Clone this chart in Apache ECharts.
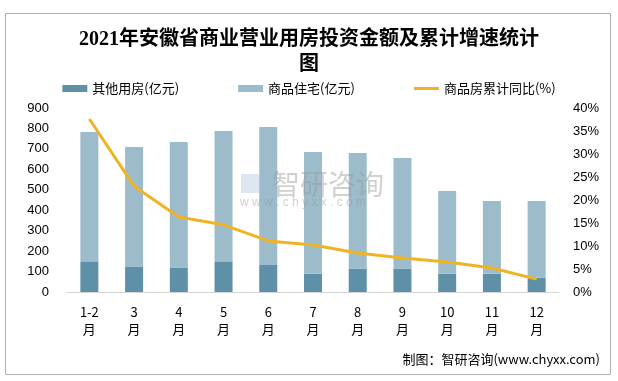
<!DOCTYPE html>
<html><head><meta charset="utf-8">
<script src="https://cdn.jsdelivr.net/npm/echarts@6/dist/echarts.min.js"></script>
<style>html,body{margin:0;padding:0;background:#fff}#c{width:618px;height:381px}</style>
</head><body><div id="c"></div>
<script>
const categories = ['1-2月','3月','4月','5月','6月','7月','8月','9月','10月','11月','12月'];
const otherValues = [150, 125, 120, 150, 135, 90, 115, 115, 90, 90, 70];
const housingValues = [633, 584, 614, 638, 672, 595, 565, 541, 404, 355, 375];
const growthValues = [37.6, 23.0, 16.3, 14.6, 11.1, 10.2, 8.5, 7.4, 6.5, 5.2, 2.8];
const leftTicks = {min: 0, max: 900, interval: 100};
const rightTicks = {min: 0, max: 40, interval: 5};

const chart = echarts.init(document.getElementById('c'));
const sans = "'Noto Sans CJK SC', sans-serif";
chart.setOption({
  animation: false,
  title: {
    text: '2021年安徽省商业营业用房投资金额及累计增速统计\n图',
    left: 'center', top: 22,
    textStyle: {fontFamily: "'Liberation Serif','Noto Sans CJK SC',serif", fontWeight: 'bold', fontSize: 20, color: '#000', lineHeight: 25}
  },
  legend: {
    top: 77, left: 'center', itemGap: 59, itemWidth: 25, itemHeight: 7,
    textStyle: {fontFamily: sans, fontSize: 13, color: '#000'},
    data: [
      {name: '其他用房(亿元)', icon: 'rect'},
      {name: '商品住宅(亿元)', icon: 'rect'},
      {name: '商品房累计同比(%)', icon: 'path://M0,0L25,0L25,3L0,3Z'}
    ]
  },
  grid: {left: 67, right: 59, top: 108, bottom: 89},
  xAxis: {
    type: 'category', data: categories,
    axisLine: {lineStyle: {color: '#d4d4d4'}},
    axisTick: {show: false},
    axisLabel: {color: '#000', fontSize: 13, fontFamily: sans, margin: 12, lineHeight: 17,
      formatter: v => v.replace('月', '\n月')}
  },
  yAxis: [
    {type: 'value', min: leftTicks.min, max: leftTicks.max, interval: leftTicks.interval,
     axisLine: {show: false}, axisTick: {show: false}, splitLine: {show: false},
     axisLabel: {color: '#000', fontSize: 13, fontFamily: "'Liberation Sans',sans-serif", margin: 18}},
    {type: 'value', min: rightTicks.min, max: rightTicks.max, interval: rightTicks.interval,
     axisLine: {show: false}, axisTick: {show: false}, splitLine: {show: false},
     axisLabel: {color: '#000', fontSize: 13, fontFamily: "'Liberation Sans',sans-serif", margin: 14, formatter: '{value}%'}}
  ],
  series: [
    {name: '其他用房(亿元)', type: 'bar', stack: 'a', barWidth: 18, data: otherValues,
     itemStyle: {color: '#5e90a7'}},
    {name: '商品住宅(亿元)', type: 'bar', stack: 'a', barWidth: 18, data: housingValues,
     itemStyle: {color: '#9dbccb'}},
    {name: '商品房累计同比(%)', type: 'line', yAxisIndex: 1, data: growthValues,
     symbol: 'none', lineStyle: {color: '#f0b323', width: 3}, itemStyle: {color: '#f0b323'}}
  ],
  graphic: [
    {type: 'rect', shape: {x: 5.5, y: 13.5, width: 605, height: 361}, style: {fill: 'none', stroke: '#b0b0b0', lineWidth: 1}, silent: true, z: -1},
    {type: 'text', left: 272, top: 170, style: {text: '智研咨询', font: "28px 'Noto Sans CJK SC'", fill: 'rgba(150,150,150,0.45)'}, z: 10},
    {type: 'text', left: 240, top: 197, style: {text: 'w w w . c h y x x . c o m', font: "12px 'Liberation Sans'", fill: 'rgba(150,150,150,0.45)'}, z: 10},
    {type: 'rect', shape: {x: 241, y: 174, width: 20, height: 19}, style: {fill: 'rgba(160,185,215,0.35)'}, z: 10},
    {type: 'text', right: 18, top: 353, style: {text: '制图：智研咨询(www.chyxx.com)', font: "13px 'Noto Sans CJK SC'", fill: '#000'}}
  ]
});
</script></body></html>
